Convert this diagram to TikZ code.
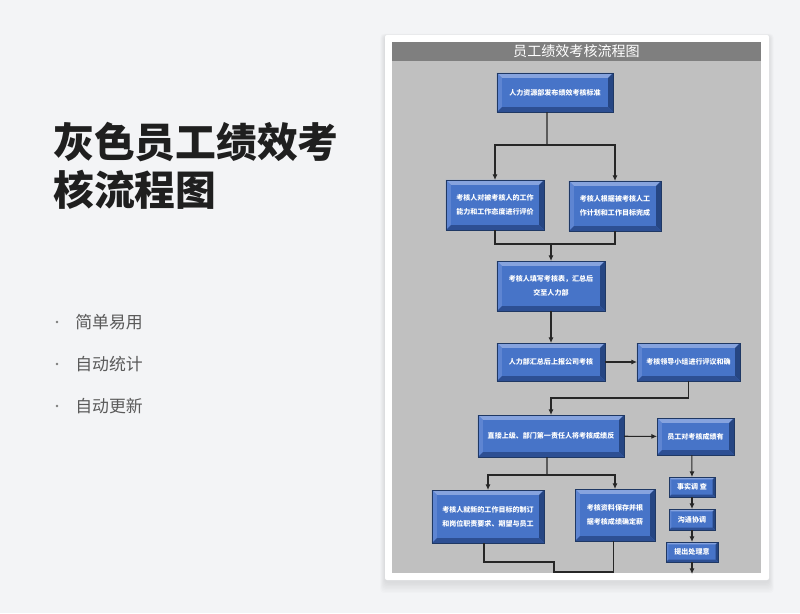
\documentclass[tikz,border=0pt]{standalone}
\usepackage{fontspec}
\setmainfont{Noto Sans CJK SC}
\usetikzlibrary{calc, arrows.meta, positioning}
\definecolor{pagebg}{HTML}{F3F4F6}
\definecolor{panel}{HTML}{C0C0C0}
\definecolor{hdr}{HTML}{7F7F7F}
\definecolor{face}{HTML}{4774C8}
\definecolor{bvtop}{HTML}{86A3DE}
\definecolor{bvleft}{HTML}{5E85D2}
\definecolor{bvright}{HTML}{264683}
\definecolor{bvbot}{HTML}{2D4F93}
\definecolor{edge}{HTML}{1F3864}
\definecolor{ttl}{HTML}{1F1F1F}
\definecolor{sub}{HTML}{5A5A5A}

\newcommand\bevel[1]{%
  \coordinate (pnw) at (path picture bounding box.north west);
  \coordinate (pne) at (path picture bounding box.north east);
  \coordinate (psw) at (path picture bounding box.south west);
  \coordinate (pse) at (path picture bounding box.south east);
  \fill[bvtop] (pnw) -- (pne) -- ([shift={(-#1,-#1)}]pne) -- ([shift={(#1,-#1)}]pnw) -- cycle;
  \fill[bvleft] (pnw) -- (psw) -- ([shift={(#1,#1)}]psw) -- ([shift={(#1,-#1)}]pnw) -- cycle;
  \fill[bvright] (pne) -- (pse) -- ([shift={(-#1,#1)}]pse) -- ([shift={(-#1,-#1)}]pne) -- cycle;
  \fill[bvbot] (psw) -- (pse) -- ([shift={(-#1,#1)}]pse) -- ([shift={(#1,#1)}]psw) -- cycle;
}

\begin{document}
\begin{tikzpicture}[
    x=0.025cm, y=-0.025cm,
    bbox/.style={rectangle, fill=face, draw=edge, line width=0.4pt, inner sep=0pt, outer sep=0pt,
        align=center, text=white, font=\fontsize{5}{10}\selectfont\bfseries, path picture={\bevel{#1}}},
    bbox/.default=0.12cm,
    arr/.style={-{Latex[length=4pt,width=3.6pt]}, line width=0.75pt, draw=black!85},
    ln/.style={line width=0.75pt, draw=black!85}
]
\useasboundingbox (0,0) rectangle (800,613);
\fill[pagebg] (0,0) rectangle (800,613);

\foreach \k in {1,...,8}
    \fill[black, opacity=0.012, rounded corners=0.1cm] (385-\k*0.6, 36-\k*0.3) rectangle (769+\k*0.6, 582+\k*1.4);
\fill[white, rounded corners=0.05cm] (385,35) rectangle (769,580);
\fill[panel] (392,61) rectangle (761,573);
\fill[hdr] (392,42) rectangle (761,61);
\node[text=white, font=\fontsize{10}{12}\selectfont, inner sep=0pt] (head) at (576.5,51.5) {员工绩效考核流程图};

\node[anchor=west, align=left, text=ttl, inner sep=0pt, font=\fontsize{29}{34.5}\selectfont\bfseries] (title) at (53,166) {灰色员工绩效考\\核流程图};
\foreach \t [count=\i] in {简单易用,自动统计,自动更新} {
    \fill[sub!80] (57,280+42*\i) circle (0.035cm);
    \node[anchor=west, text=sub, inner sep=0pt, font=\fontsize{12}{14}\selectfont] (item\i) at (75,280+42*\i) {\t};
}

\node[bbox, minimum width=2.9cm, minimum height=0.975cm] (b1) at (555,92.5) {人力资源部发布绩效考核标准};
\node[bbox, minimum width=2.45cm, minimum height=1.25cm] (b2) at (495,205) {考核人对被考核人的工作\\能力和工作态度进行评价};
\node[bbox, minimum width=2.3cm, minimum height=1.25cm] (b3) at (615,206) {考核人根据被考核人工\\作计划和工作目标完成};
\node[bbox, minimum width=2.7cm, minimum height=1.25cm] (b4) at (551,286) {考核人填写考核表，汇总后\\交至人力部};
\node[bbox, minimum width=2.7cm, minimum height=0.95cm] (b5) at (551,362) {人力部汇总后上报公司考核};
\node[bbox, minimum width=2.575cm, minimum height=0.95cm] (b6) at (688.5,362) {考核领导小组进行评议和确};
\node[bbox, minimum width=3.65cm, minimum height=1.05cm] (b7) at (551,436) {直接上级、部门第一责任人将考核成绩反};
\node[bbox, minimum width=1.925cm, minimum height=0.925cm] (b8) at (695.5,436.5) {员工对考核成绩有};
\node[bbox=0.06cm, minimum width=1.15cm, minimum height=0.5cm] (b9) at (692,487) {事实调 查};
\node[bbox=0.06cm, minimum width=1.15cm, minimum height=0.525cm] (b10) at (692,519.5) {沟通协调};
\node[bbox=0.06cm, minimum width=1.3cm, minimum height=0.5cm] (b11) at (692,552) {提出处理意};
\node[bbox, minimum width=2.8cm, minimum height=1.325cm] (b12) at (488,516.5) {考核人就新的工作目标的制订\\和岗位职责要求、期望与员工};
\node[bbox, minimum width=2cm, minimum height=1.3cm] (b13) at (615,515) {考核资料保存并根\\据考核成绩确定薪};

\coordinate (j1) at (547,145);
\coordinate (j2) at (551,244);
\coordinate (j3) at (551,398);
\coordinate (j4) at (547,475);
\coordinate (j5) at (554,562);
\coordinate (j6) at (554,572);
\coordinate (e1) at (692,574);
\coordinate (e2) at (554,573);

\draw[ln] ([xshift=-0.2cm]b1.south) -- (j1);
\draw[arr] (j1) -| (b2.north);
\draw[arr] (j1) -| (b3.north);
\draw[ln] (b2.south) |- (j2) -| (b3.south);
\draw[arr] (j2) -- (b4.north);
\draw[arr] (b4) -- (b5);
\draw[arr] (b5) -- (b6);
\draw[arr] (b6.south) |- (j3) -- (b7.north);
\draw[arr] (b7) -- (b8);
\draw[ln] ([xshift=-0.1cm]b7.south) -- (j4);
\draw[arr] (j4) -| (b12.north);
\draw[arr] (j4) -| (b13.north);
\draw[arr] ([xshift=-0.09cm]b8.south) -- (b9);
\draw[arr] (b9) -- (b10);
\draw[arr] (b10) -- (b11);
\draw[arr] (b11) -- (e1);
\draw[ln] ([xshift=-0.1cm]b12.south) |- (j5) -- (e2);
\draw[ln] ([xshift=-0.03cm]b13.south) |- (j6);
\end{tikzpicture}
\end{document}
